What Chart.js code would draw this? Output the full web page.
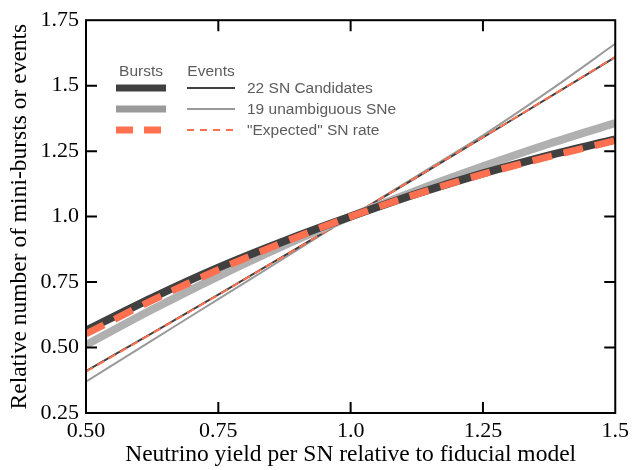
<!DOCTYPE html>
<html>
<head>
<meta charset="utf-8">
<script src="https://cdn.jsdelivr.net/npm/chart.js@4"></script>
<style>
  html, body { margin: 0; padding: 0; background: #fff; }
  #wrap { width: 634px; height: 470px; }
</style>
</head>
<body>
<div id="wrap"><canvas id="yieldChart" width="634" height="470"></canvas></div>
<script>
// neutrino yield relative to fiducial model
const xVals = [0.5, 0.625, 0.75, 0.875, 1.0, 1.125, 1.25, 1.375, 1.5];

// mini-bursts (thick lines)
const burstsAll      = [0.565, 0.690, 0.805, 0.907, 1.0, 1.087, 1.165, 1.234, 1.295];
const burstsUnamb    = [0.510, 0.645, 0.772, 0.890, 1.0, 1.100, 1.192, 1.278, 1.357];
const burstsExpected = [0.552, 0.680, 0.797, 0.903, 1.0, 1.086, 1.162, 1.229, 1.290];

// events (thin lines)
const eventsAll      = [0.410, 0.555, 0.702, 0.851, 1.0, 1.150, 1.302, 1.455, 1.609];
const eventsUnamb    = [0.370, 0.527, 0.685, 0.842, 1.0, 1.155, 1.310, 1.480, 1.660];
const eventsExpected = [0.408, 0.554, 0.701, 0.850, 1.0, 1.151, 1.303, 1.456, 1.610];

const xTickLabels = ["0.50", "0.75", "1.0", "1.25", "1.5"];
const yTickLabels = ["0.25", "0.50", "0.75", "1.0", "1.25", "1.5", "1.75"];

const legendRows = ["22 SN Candidates", "19 unambiguous SNe", "\"Expected\" SN rate"];

const DARK = "#404040";
const GRAY_THICK = "#b0b0b0";
const GRAY_THIN = "#9a9a9a";
const ORANGE = "#ff7050";

const serif = "'Liberation Serif', 'Times New Roman', serif";
const sans = "'Liberation Sans', Arial, sans-serif";

function pts(ys) {
  return xVals.map((x, i) => ({ x: x, y: ys[i] }));
}

function series(label, ys, color, width, dash, order) {
  return {
    label: label,
    data: pts(ys),
    showLine: true,
    borderColor: color,
    backgroundColor: color,
    borderWidth: width,
    borderDash: dash || [],
    pointRadius: 0,
    tension: 0.4,
    cubicInterpolationMode: "monotone",
    order: order
  };
}

// frame + inward ticks on all four sides
const framePlugin = {
  id: "frame",
  afterDatasetsDraw(chart) {
    const { ctx, chartArea: a, scales } = chart;
    const len = 11;
    ctx.save();
    ctx.strokeStyle = "#000";
    ctx.lineWidth = 2;
    ctx.strokeRect(a.left, a.top, a.right - a.left, a.bottom - a.top);
    ctx.beginPath();
    scales.x.ticks.forEach(t => {
      const px = scales.x.getPixelForValue(t.value);
      if (px <= a.left + 1 || px >= a.right - 1) return;
      ctx.moveTo(px, a.bottom); ctx.lineTo(px, a.bottom - len);
      ctx.moveTo(px, a.top); ctx.lineTo(px, a.top + len);
    });
    scales.y.ticks.forEach(t => {
      const py = scales.y.getPixelForValue(t.value);
      if (py <= a.top + 1 || py >= a.bottom - 1) return;
      ctx.moveTo(a.left, py); ctx.lineTo(a.left + len, py);
      ctx.moveTo(a.right, py); ctx.lineTo(a.right - len, py);
    });
    ctx.stroke();
    ctx.restore();
  }
};

// two-column legend (Bursts / Events)
const legendPlugin = {
  id: "burstLegend",
  afterDraw(chart) {
    const ctx = chart.ctx;
    const rowY = [88, 109, 130];
    ctx.save();
    ctx.font = "15.5px " + sans;
    ctx.fillStyle = "#5c5c5c";
    ctx.textBaseline = "middle";
    ctx.textAlign = "center";
    ctx.fillText("Bursts", 141, 72);
    ctx.fillText("Events", 211, 72);
    ctx.textAlign = "left";
    legendRows.forEach((txt, i) => ctx.fillText(txt, 247, rowY[i] + 1));

    const thick = [[DARK, []], ["#9a9a9a", []], [ORANGE, [17, 11]]];
    const thin = [[DARK, []], [GRAY_THIN, []], [ORANGE, [7, 6]]];
    ctx.lineCap = "butt";
    thick.forEach((s, i) => {
      ctx.strokeStyle = s[0];
      ctx.setLineDash(s[1]);
      ctx.lineWidth = 7;
      ctx.beginPath(); ctx.moveTo(116, rowY[i]); ctx.lineTo(166, rowY[i]); ctx.stroke();
    });
    thin.forEach((s, i) => {
      ctx.strokeStyle = s[0];
      ctx.setLineDash(s[1]);
      ctx.lineWidth = 2;
      ctx.beginPath(); ctx.moveTo(187, rowY[i]); ctx.lineTo(235, rowY[i]); ctx.stroke();
    });
    ctx.restore();
  }
};

const ctx = document.getElementById("yieldChart").getContext("2d");

new Chart(ctx, {
  type: "scatter",
  data: {
    datasets: [
      series("Events 19 unambiguous SNe", eventsUnamb, GRAY_THIN, 2, null, 6),
      series("Events 22 SN Candidates", eventsAll, DARK, 2, null, 5),
      series("Events expected", eventsExpected, ORANGE, 2, [8, 5], 4),
      series("Bursts 19 unambiguous SNe", burstsUnamb, GRAY_THICK, 8, null, 3),
      series("Bursts 22 SN Candidates", burstsAll, DARK, 8, null, 2),
      series("Bursts expected", burstsExpected, ORANGE, 7, [20, 12], 1)
    ]
  },
  options: {
    responsive: false,
    animation: false,
    layout: { padding: { top: 16, right: 17, left: 0, bottom: 0 } },
    plugins: {
      legend: { display: false },
      tooltip: { enabled: false }
    },
    scales: {
      x: {
        type: "linear",
        min: 0.5,
        max: 1.5,
        grid: { display: false, drawTicks: false },
        border: { display: false },
        ticks: {
          stepSize: 0.25,
          padding: 5,
          color: "#000",
          font: { family: serif, size: 22 },
          maxRotation: 0,
          callback: (v, i) => xTickLabels[i]
        },
        title: {
          display: true,
          text: "Neutrino yield per SN relative to fiducial model",
          color: "#000",
          font: { family: serif, size: 23.5 },
          padding: { top: 0, bottom: 1 }
        },
        afterFit(scale) { scale.height = 57; }
      },
      y: {
        min: 0.25,
        max: 1.75,
        grid: { display: false, drawTicks: false },
        border: { display: false },
        ticks: {
          stepSize: 0.25,
          padding: 7,
          color: "#000",
          font: { family: serif, size: 22 },
          callback: (v, i) => yTickLabels[i]
        },
        title: {
          display: true,
          text: "Relative number of mini-bursts or events",
          color: "#000",
          font: { family: serif, size: 23.5 },
          padding: { top: 6, bottom: 0 }
        },
        afterFit(scale) { scale.width = 86; }
      }
    }
  },
  plugins: [framePlugin, legendPlugin]
});
</script>
</body>
</html>
